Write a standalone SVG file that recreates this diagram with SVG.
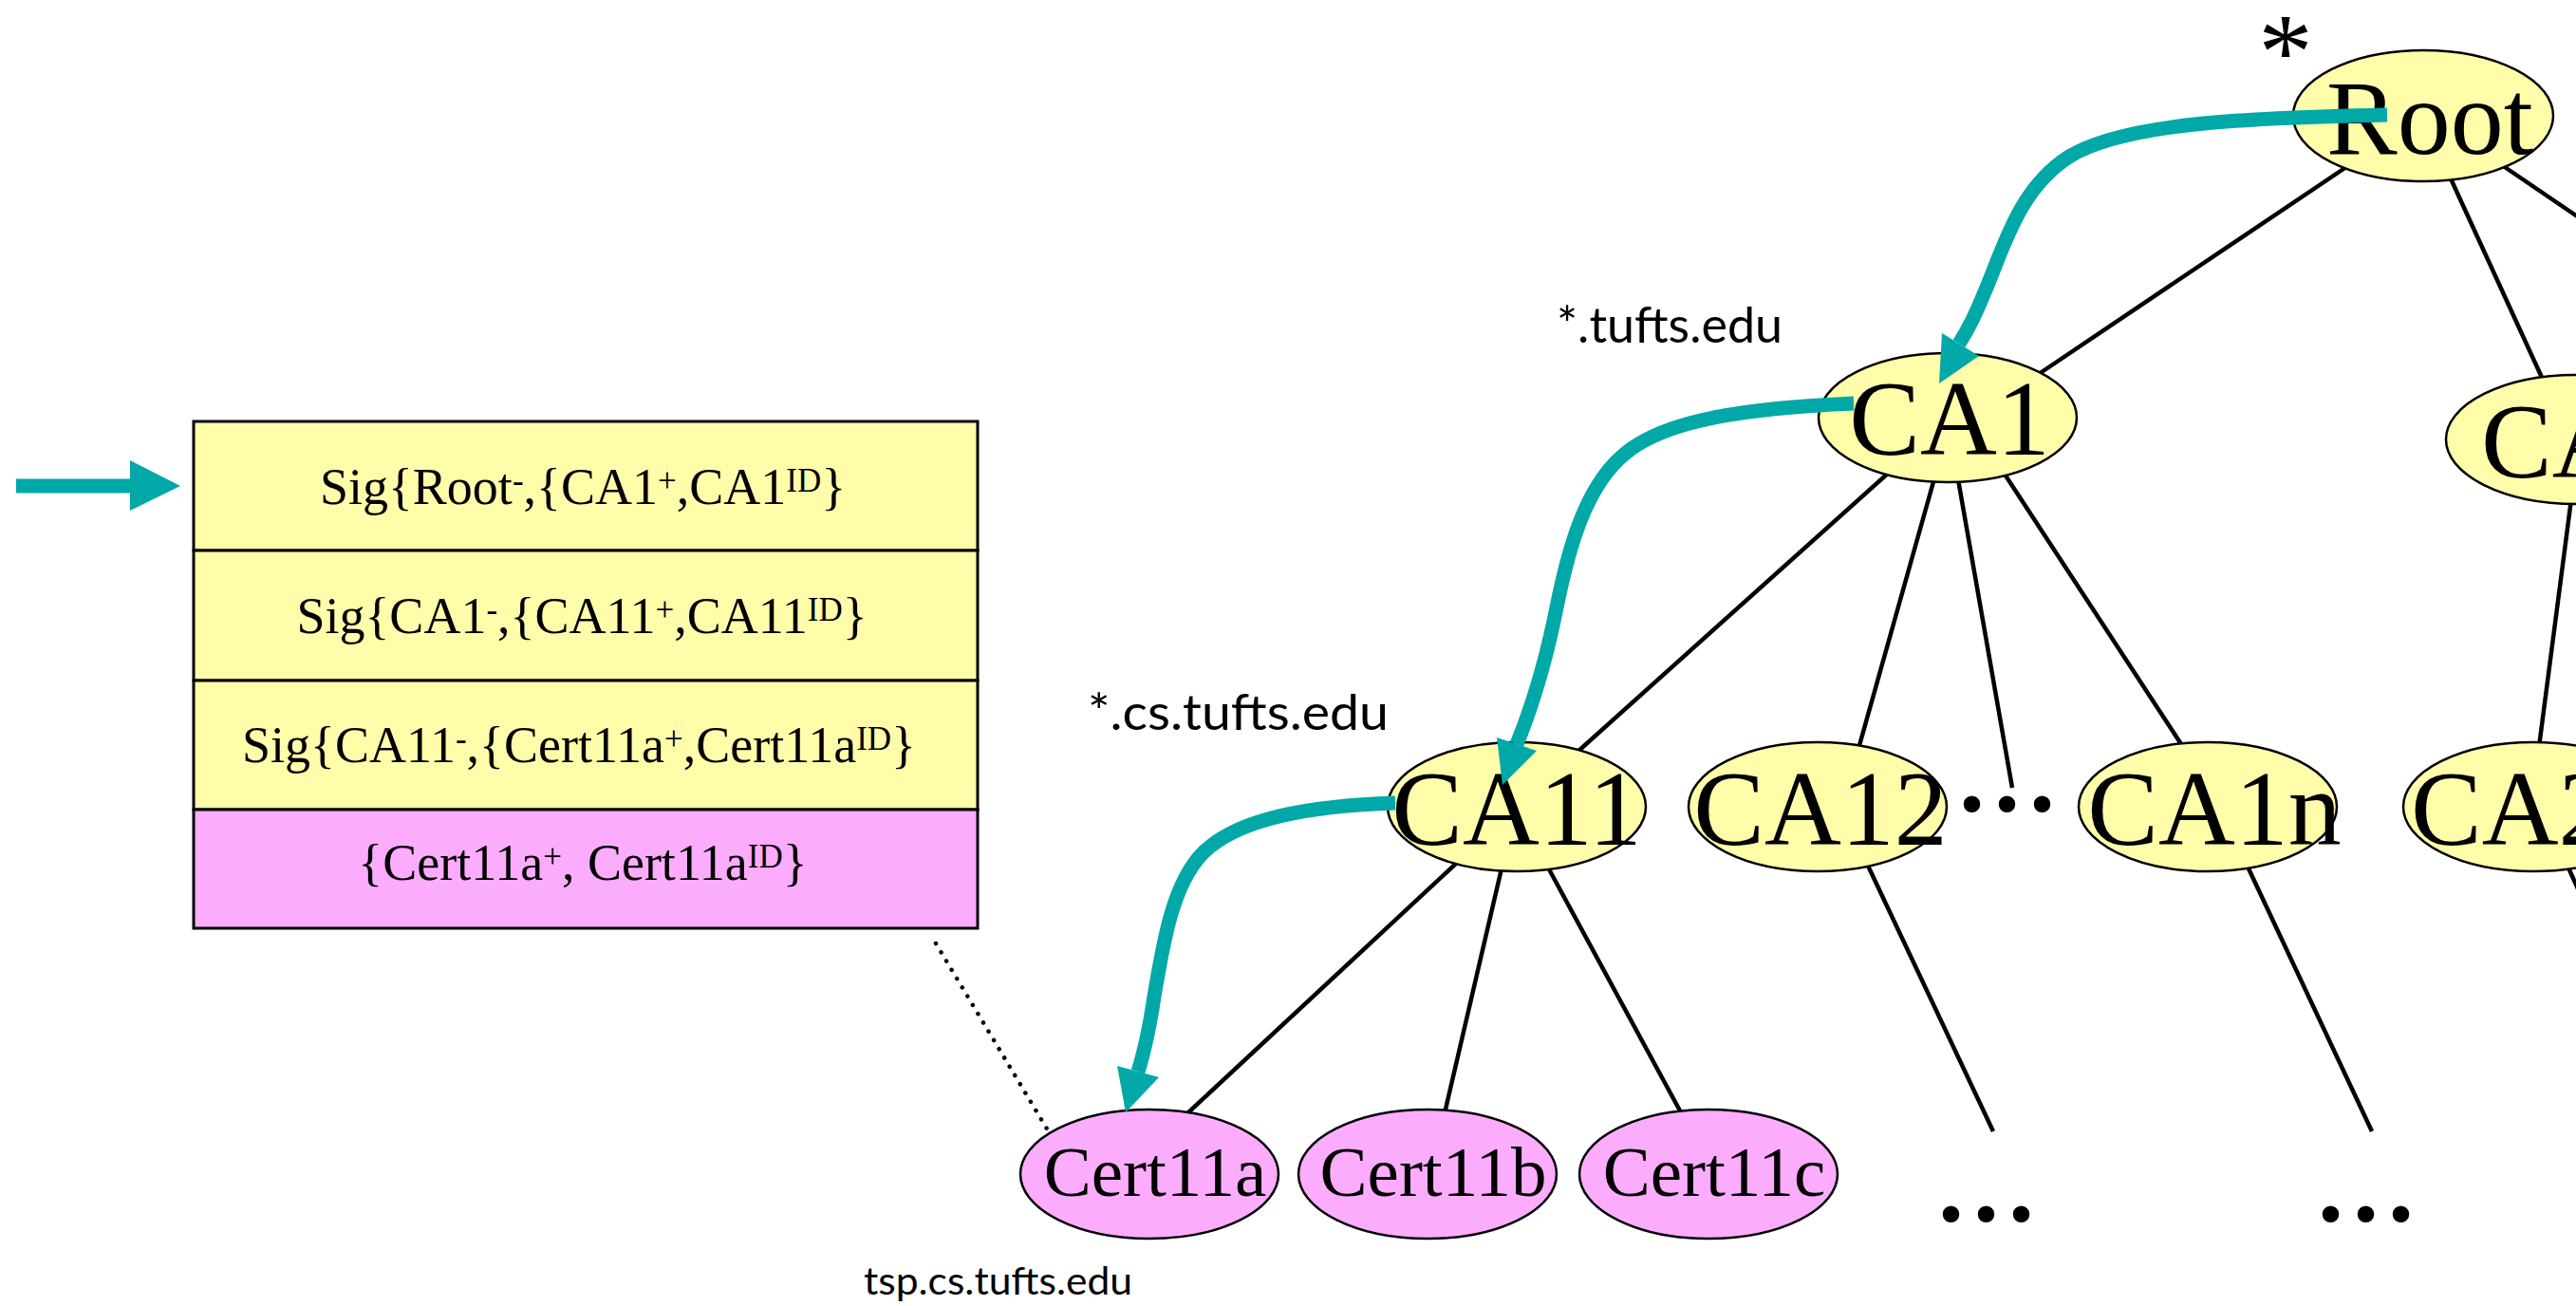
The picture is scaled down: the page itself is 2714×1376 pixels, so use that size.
<svg xmlns="http://www.w3.org/2000/svg" width="2714" height="1376" viewBox="0 0 2714 1376">
  <style>
    .serif { font-family: "Liberation Serif", "Times New Roman", serif; fill: #000; }
    .sans { font-family: "Lato", "Liberation Sans", sans-serif; fill: #000; }
    .edge { stroke: #000; stroke-width: 4.5; fill: none; }
    .dotted { stroke: #000; stroke-width: 4.5; fill: none; stroke-linecap: round; stroke-dasharray: 0.1 10.7; }
    .ca { fill: #FFFCAA; stroke: #000; stroke-width: 2.5; }
    .cert { fill: #FCACFC; stroke: #000; stroke-width: 2.5; }
    .lbl { font-size: 112px; text-anchor: middle; }
    .clbl { font-size: 75px; text-anchor: middle; }
    .dots { font-size: 148px; }
    .boxy { fill: #FFFCAA; stroke: #000; stroke-width: 3; }
    .boxp { fill: #FCACFC; stroke: #000; stroke-width: 3; }
    .btxt { font-size: 54px; text-anchor: middle; }
    .sup { font-size: 35px; }
    .trail { fill: none; stroke: #00A8A8; stroke-width: 15; }
    .head { fill: #00A8A8; }
  </style>

  <!-- certificate chain stack -->
  <g id="chain">
    <g id="chain-arrow">
      <path class="trail" d="M17,512 H139" stroke-width="14"/>
      <polygon class="head" points="137,485 190,512 137,538"/>
    </g>
    <g id="cert-root-ca1">
      <rect class="boxy" x="204" y="444" width="826" height="136"/>
      <text class="serif btxt" x="614" y="531">Sig{Root<tspan class="sup" dy="-13">-</tspan><tspan dy="13">,{CA1</tspan><tspan class="sup" dy="-13">+</tspan><tspan dy="13">,CA1</tspan><tspan class="sup" dy="-13">ID</tspan><tspan dy="13">}</tspan></text>
    </g>
    <g id="cert-ca1-ca11">
      <rect class="boxy" x="204" y="580" width="826" height="137"/>
      <text class="serif btxt" x="613" y="667">Sig{CA1<tspan class="sup" dy="-13">-</tspan><tspan dy="13">,{CA11</tspan><tspan class="sup" dy="-13">+</tspan><tspan dy="13">,CA11</tspan><tspan class="sup" dy="-13">ID</tspan><tspan dy="13">}</tspan></text>
    </g>
    <g id="cert-ca11-cert11a">
      <rect class="boxy" x="204" y="717" width="826" height="136"/>
      <text class="serif btxt" x="610" y="803">Sig{CA11<tspan class="sup" dy="-13">-</tspan><tspan dy="13">,{Cert11a</tspan><tspan class="sup" dy="-13">+</tspan><tspan dy="13">,Cert11a</tspan><tspan class="sup" dy="-13">ID</tspan><tspan dy="13">}</tspan></text>
    </g>
    <g id="cert-cert11a">
      <rect class="boxp" x="204" y="853" width="826" height="125"/>
      <text class="serif btxt" x="614" y="927">{Cert11a<tspan class="sup" dy="-13">+</tspan><tspan dy="13">, Cert11a</tspan><tspan class="sup" dy="-13">ID</tspan><tspan dy="13">}</tspan></text>
    </g>
  </g>

  <!-- tree edges -->
  <g id="edges">
    <path class="edge" d="M2472,176 L2148,394"/>
    <path class="edge" d="M2581,186 L2680,402"/>
    <path class="edge" d="M2633,172 L2730,238"/>
    <path class="edge" d="M2709,526 L2675,787"/>
    <path class="edge" d="M1991,497 L1661,793"/>
    <path class="edge" d="M2038,504 L1958,789"/>
    <path class="edge" d="M2063,505 L2120,830"/>
    <path class="edge" d="M2111,498 L2300,787"/>
    <path class="edge" d="M1536,908 L1250,1174"/>
    <path class="edge" d="M1582,915 L1522,1173"/>
    <path class="edge" d="M1631,914 L1772,1174"/>
    <path class="edge" d="M1967,910 L2100,1192"/>
    <path class="edge" d="M2368,913 L2499,1192"/>
    <path class="edge" d="M2705,912 L2740,990"/>
    <path class="dotted" d="M986,994 L1113,1206"/>
  </g>

  <!-- CA tree nodes -->
  <g id="root">
    <ellipse class="ca" cx="2553" cy="122" rx="137" ry="69"/>
    <text class="serif lbl" x="2560" y="162">Root</text>
    <text class="serif" x="2408" y="93" font-size="115" text-anchor="middle">*</text>
  </g>
  <g id="ca1">
    <ellipse class="ca" cx="2052" cy="440" rx="136" ry="68"/>
    <text class="serif lbl" x="2054" y="479">CA1</text>
  </g>
  <g id="ca2">
    <ellipse class="ca" cx="2714" cy="463" rx="137" ry="68"/>
    <text class="serif" x="2614" y="503" font-size="112">CA2</text>
  </g>
  <g id="ca11">
    <ellipse class="ca" cx="1598" cy="850" rx="136" ry="68"/>
    <text class="serif lbl" x="1598" y="890">CA11</text>
  </g>
  <g id="ca12">
    <ellipse class="ca" cx="1915" cy="850" rx="136" ry="68"/>
    <text class="serif lbl" x="1918" y="890">CA12</text>
  </g>
  <g id="ca1-more">
    <text class="serif dots" x="2059" y="854">...</text>
  </g>
  <g id="ca1n">
    <ellipse class="ca" cx="2326" cy="850" rx="136" ry="68"/>
    <text class="serif lbl" x="2333" y="890">CA1n</text>
  </g>
  <g id="ca21">
    <ellipse class="ca" cx="2669" cy="850" rx="137" ry="68"/>
    <text class="serif" x="2540" y="890" font-size="112">CA21</text>
  </g>
  <g id="cert11a">
    <ellipse class="cert" cx="1211" cy="1237" rx="136" ry="68"/>
    <text class="serif clbl" x="1217" y="1260">Cert11a</text>
  </g>
  <g id="cert11b">
    <ellipse class="cert" cx="1504" cy="1237" rx="136" ry="68"/>
    <text class="serif clbl" x="1510" y="1260">Cert11b</text>
  </g>
  <g id="cert11c">
    <ellipse class="cert" cx="1800" cy="1237" rx="136" ry="68"/>
    <text class="serif clbl" x="1806" y="1260">Cert11c</text>
  </g>
  <g id="ca12-more">
    <text class="serif dots" x="2037" y="1286">...</text>
  </g>
  <g id="ca1n-more">
    <text class="serif dots" x="2437" y="1286">...</text>
  </g>

  <!-- domain labels -->
  <g id="domains">
    <text class="sans" x="1640" y="361" font-size="52" textLength="238" lengthAdjust="spacingAndGlyphs">*.tufts.edu</text>
    <text class="sans" x="1146" y="769" font-size="52" textLength="317" lengthAdjust="spacingAndGlyphs">*.cs.tufts.edu</text>
    <text class="sans" x="910" y="1364" font-size="40" textLength="283" lengthAdjust="spacingAndGlyphs">tsp.cs.tufts.edu</text>
  </g>

  <!-- validation path, drawn over the tree -->
  <g id="path-arrows">
    <path class="trail" d="M2515,121 C2380,124 2240,128 2180,165 C2125,200 2110,265 2090,310 C2082,330 2075,345 2064,362"/>
    <polygon class="head" points="2046,351 2085,375 2043,404"/>
    <path class="trail" d="M1953,425 C1840,430 1755,442 1712,478 C1670,512 1652,580 1640,640 C1628,700 1614,745 1598,784"/>
    <polygon class="head" points="1577,777 1619,791 1583,827"/>
    <path class="trail" d="M1470,846 C1380,849 1305,862 1268,898 C1236,930 1226,990 1216,1050 C1210,1090 1205,1110 1199,1129"/>
    <polygon class="head" points="1177,1123 1221,1135 1186,1172"/>
  </g>
</svg>
